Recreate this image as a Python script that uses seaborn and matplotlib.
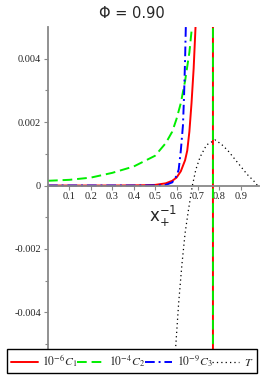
import matplotlib
matplotlib.use('Agg')
import matplotlib.pyplot as plt
import seaborn as sns
import pandas as pd

# values
pole = 0.77

c1_x = [0.0, 0.3, 0.4, 0.45, 0.5, 0.55, 0.58, 0.6, 0.62, 0.64, 0.65, 0.66, 0.67, 0.68, 0.69, 0.70, pole, pole]
c1_y = [0.0, 0.0, 0.000005, 0.00001, 0.00002, 0.00007, 0.00015, 0.00025, 0.00045, 0.0008, 0.0011,
        0.0017, 0.0026, 0.0037, 0.0052, 0.008, 1.0, -1.0]

c2_x = [0.0, 0.1, 0.2, 0.3, 0.4, 0.5, 0.55, 0.58, 0.6, 0.62, 0.64, 0.66, 0.675, 0.69, pole, pole]
c2_y = [0.00015, 0.00018, 0.00025, 0.0004, 0.0006, 0.00094, 0.00134, 0.0017, 0.0021, 0.0026, 0.0033,
        0.0042, 0.0052, 0.008, 1.0, -1.0]

c3_x = [0.0, 0.4, 0.5, 0.55, 0.58, 0.6, 0.61, 0.62, 0.63, 0.635, 0.64, 0.644, 0.65]
c3_y = [0.0, 0.0, 0.000005, 0.00002, 0.0001, 0.0003, 0.0005, 0.0011, 0.0019, 0.0028, 0.004, 0.0052, 0.008]

t_x = [0.58, 0.597, 0.61, 0.625, 0.64, 0.655, 0.674, 0.69, 0.71, 0.74, 0.78, 0.81, 0.84, 0.87, 0.9,
       0.93, 0.96, 0.978]
t_y = [-0.0065, -0.005, -0.0037, -0.0025, -0.0015, -0.0008, 0.0, 0.0005, 0.0009, 0.00128, 0.00144,
       0.0013, 0.0011, 0.00085, 0.0006, 0.00035, 0.00015, 0.0]

labels = [r'$10^{-6}C_1$', r'$10^{-4}C_2$', r'$10^{-9}C_3$', r'$T$']
x_ticks = [0.1, 0.2, 0.3, 0.4, 0.5, 0.6, 0.7, 0.8, 0.9]
y_ticks = [-0.004, -0.002, 0, 0.002, 0.004]
title = 'Φ = 0.90'

sns.set_style('white')
plt.rcParams['font.family'] = ['DejaVu Sans']
plt.rcParams['mathtext.fontset'] = 'stix'
plt.rcParams['axes.unicode_minus'] = False

fig = plt.figure(figsize=(2.65, 3.8), dpi=100)
ax = fig.add_axes([48 / 265, 28 / 380, 211 / 265, 325 / 380])

series = [
    (c1_x, c1_y, '#ff0000', '-', labels[0], 1.4),
    (c2_x, c2_y, '#00ee00', (0, (5, 2.5)), labels[1], 1.4),
    (c3_x, c3_y, '#0000ff', (0, (5, 2, 1, 2)), labels[2], 1.4),
    (t_x, t_y, 'black', (0, (1, 2.5)), labels[3], 0.9),
]
for xs, ys, col, ls, lab, lw in series:
    df = pd.DataFrame({'x': xs, 'y': ys})
    sns.lineplot(data=df, x='x', y='y', ax=ax, color=col, linestyle=ls, linewidth=lw,
                 label=lab, sort=False, estimator=None)

ax.set_xlim(0, 0.985)
ax.set_ylim(-0.00525, 0.005)
ax.set_xlabel('')
ax.set_ylabel('')

for s in ['top', 'right']:
    ax.spines[s].set_visible(False)
ax.spines['bottom'].set_position(('data', 0))
for s in ['left', 'bottom']:
    ax.spines[s].set_color('#888888')
    ax.spines[s].set_linewidth(1.3)

ax.set_xticks(x_ticks)
ax.set_xticklabels([f'{v:.1f}' for v in x_ticks])
ax.set_yticks(y_ticks)
ax.set_yticklabels(['-0.004', '-0.002', '0', '0.002', '0.004'])
ax.set_yticks([-0.005, -0.003, -0.001, 0.001, 0.003], minor=True)
ax.tick_params(axis='both', which='both', direction='out', color='#888888', width=0.8,
               labelsize=7.5, pad=2)
ax.tick_params(axis='both', which='major', length=3, left=True, bottom=True)
ax.tick_params(axis='y', which='minor', length=2, left=True)
for lab in ax.get_xticklabels() + ax.get_yticklabels():
    lab.set_fontfamily('Liberation Serif')

fig.text(132 / 265, 1 - 13 / 380, title, ha='center', va='center', fontsize=10.5)
fig.text(163 / 265, 1 - 216 / 380, r'$\mathrm{x}_{+}^{-1}$', ha='center', va='center',
         fontsize=12, math_fontfamily='dejavusans')

handles, labs = ax.get_legend_handles_labels()
ax.get_legend().remove()
leg = fig.legend(handles, labs, loc='center', ncol=4, mode='expand',
                 bbox_to_anchor=(7 / 265, 7 / 380, 250 / 265, 24 / 380),
                 fancybox=False, edgecolor='black', framealpha=1, fontsize=8.5,
                 handlelength=2.3, handletextpad=0.4, columnspacing=0.5, borderpad=0.3,
                 borderaxespad=0)
leg.get_frame().set_linewidth(1.0)

fig.savefig('out.png', dpi=100)
